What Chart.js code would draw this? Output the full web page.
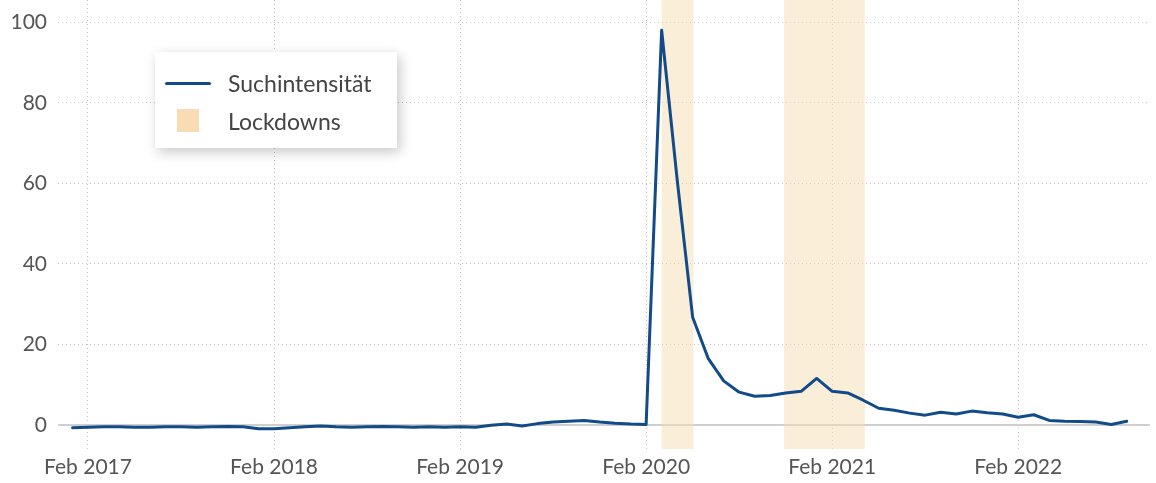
<!DOCTYPE html>
<html>
<head>
<meta charset="utf-8">
<script src="https://cdn.jsdelivr.net/npm/chart.js@4/dist/chart.umd.min.js"></script>
<style>
  html, body { margin: 0; padding: 0; background: #fff; }
  #wrap { position: relative; width: 1156px; height: 483px; }
  #legend {
    position: absolute; left: 155px; top: 52px; width: 242px; height: 96px;
    background: #fff; box-shadow: 3px 4px 12px rgba(0,0,0,0.22);
    font-family: Lato, sans-serif; font-size: 23px; color: #444;
  }
  #legend .row { position: absolute; left: 0; height: 24px; line-height: 24px; }
  #legend .txt { position: absolute; left: 73px; white-space: nowrap; }
</style>
</head>
<body>
<div id="wrap">
  <canvas id="myChart" width="1156" height="483"></canvas>
  <div id="legend">
    <div class="row" style="top:19px;width:240px">
      <div style="position:absolute;left:10px;top:11px;width:46px;height:3px;background:#124b88;border-radius:2px"></div>
      <span class="txt">Suchintensität</span>
    </div>
    <div class="row" style="top:57px;width:240px">
      <div style="position:absolute;left:22px;top:0px;width:22px;height:23px;background:#fadcb4"></div>
      <span class="txt">Lockdowns</span>
    </div>
  </div>
</div>
<script>
  'use strict';

  // Monate seit Jan 2017 (0 = Jan 2017)
  const months = [];
  for (let i = 0; i <= 68; i++) months.push(i);

  // Suchintensität je Monat
  const searchValues = [
    -0.6, -0.5, -0.4, -0.4, -0.5, -0.5, -0.4, -0.4, -0.5, -0.4, -0.3, -0.4, // 2017
    -0.9, -0.9, -0.6, -0.4, -0.2, -0.4, -0.5, -0.4, -0.3, -0.4, -0.5, -0.4, // 2018
    -0.5, -0.4, -0.5, 0.0, 0.3, -0.2, 0.4, 0.8, 1.0, 1.2, 0.8, 0.5,         // 2019
    0.3, 0.2, 98, 61, 26.8, 16.6, 11, 8.2, 7.2, 7.4, 8.0, 8.4,              // 2020
    11.6, 8.4, 8.0, 6.2, 4.2, 3.7, 3.0, 2.5, 3.2, 2.8, 3.5, 3.1,            // 2021
    2.8, 2.0, 2.6, 1.2, 1.0, 0.9, 0.8, 0.2, 1.0                             // 2022
  ];

  // Lockdown-Zeiträume (Start, Ende in Monaten)
  const lockdownStart = [38.0, 45.9];
  const lockdownEnd = [40.05, 51.1];

  // Achsenbeschriftung
  const xTickValues = [1, 13, 25, 37, 49, 61];
  const xTickLabels = ['Feb 2017', 'Feb 2018', 'Feb 2019', 'Feb 2020', 'Feb 2021', 'Feb 2022'];
  const yTickValues = [0, 20, 40, 60, 80, 100];

  const points = months.map((m, i) => ({ x: m, y: searchValues[i] }));

  // Hintergrundbänder für Lockdowns
  const lockdownPlugin = {
    id: 'lockdowns',
    beforeDatasetsDraw(chart) {
      const { ctx, chartArea, scales } = chart;
      ctx.save();
      ctx.fillStyle = 'rgba(246, 222, 180, 0.5)';
      lockdownStart.forEach((s, i) => {
        const x0 = scales.x.getPixelForValue(s);
        const x1 = scales.x.getPixelForValue(lockdownEnd[i]);
        ctx.fillRect(x0, chartArea.top, x1 - x0, chartArea.bottom - chartArea.top);
      });
      ctx.restore();
    }
  };

  const ctx = document.getElementById('myChart').getContext('2d');
  const myChart = new Chart(ctx, {
    type: 'line',
    data: {
      datasets: [{
        label: 'Suchintensität',
        data: points,
        borderColor: '#124b88',
        borderWidth: 3,
        pointRadius: 0,
        tension: 0,
        borderJoinStyle: 'round',
        borderCapStyle: 'round'
      }]
    },
    options: {
      responsive: false,
      animation: false,
      layout: { padding: { left: 0, right: 6, top: 0, bottom: 0 } },
      scales: {
        x: {
          type: 'linear',
          min: -0.935,
          max: 69.5,
          afterBuildTicks: s => { s.ticks = xTickValues.map(v => ({ value: v })); },
          afterFit: s => { s.height = 34; s.paddingLeft = 0; s.paddingRight = 0; },
          ticks: {
            padding: 6,
            color: '#555',
            font: { family: 'Lato', size: 21 },
            callback: v => xTickLabels[xTickValues.indexOf(v)]
          },
          grid: { color: '#c4c4c4', lineWidth: 1, drawTicks: false },
          border: { display: false, dash: [1, 3] }
        },
        y: {
          type: 'linear',
          min: -5.9,
          max: 105.5,
          afterBuildTicks: s => { s.ticks = yTickValues.map(v => ({ value: v })); },
          afterFit: s => { s.width = 58; s.paddingTop = 0; s.paddingBottom = 0; },
          ticks: {
            padding: 11,
            color: '#555',
            font: { family: 'Lato', size: 21 }
          },
          grid: {
            drawTicks: false,
            color: c => c.tick && c.tick.value === 0 ? '#cfcfcf' : '#c4c4c4',
            lineWidth: c => c.tick && c.tick.value === 0 ? 2 : 1
          },
          border: {
            display: false,
            dash: c => c.tick && c.tick.value === 0 ? [] : [1, 3]
          }
        }
      },
      plugins: {
        legend: { display: false },
        tooltip: { enabled: false }
      }
    },
    plugins: [lockdownPlugin]
  });
</script>
</body>
</html>
